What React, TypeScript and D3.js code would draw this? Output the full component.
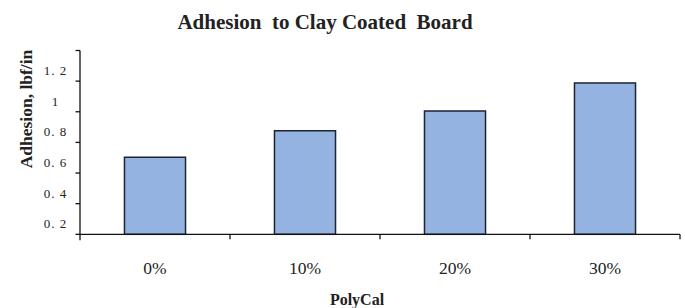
import { useEffect, useRef } from 'react'
import * as d3 from 'd3'

const categories = ['0%', '10%', '20%', '30%']
const adhesion = [0.503, 0.676, 0.805, 0.988]
const yTicks = [0, 0.2, 0.4, 0.6, 0.8, 1.0, 1.2]
const yTickLabels = ['', '0. 2', '0. 4', '0. 6', '0. 8', '1', '1. 2']

const W = 685
const H = 308
const M = { top: 50.5, right: 5, bottom: 73.7, left: 80 }
const FONT = '"Liberation Serif", "Times New Roman", serif'

export default function App() {
  const svgRef = useRef<SVGSVGElement>(null)

  useEffect(() => {
    document.body.style.margin = '0'
    if (!svgRef.current) return
    const svg = d3.select(svgRef.current)
    svg.selectAll('*').remove()

    const innerBottom = H - M.bottom
    const x = d3
      .scaleBand<string>()
      .domain(categories)
      .range([M.left, 680])
      .paddingInner(0.593)
      .paddingOuter(0.2965)
    const y = d3.scaleLinear().domain([0, 1.2]).range([innerBottom, M.top])

    // bars
    svg
      .append('g')
      .selectAll('rect')
      .data(adhesion)
      .join('rect')
      .attr('x', (_, i) => x(categories[i])!)
      .attr('y', (d) => y(d))
      .attr('width', x.bandwidth())
      .attr('height', (d) => innerBottom - y(d))
      .attr('fill', '#95b3e0')
      .attr('stroke', '#1c2333')
      .attr('stroke-width', 1.5)

    // y axis line + ticks
    svg
      .append('line')
      .attr('x1', M.left)
      .attr('x2', M.left)
      .attr('y1', y(1.2))
      .attr('y2', innerBottom + 6)
      .attr('stroke', '#111')
      .attr('stroke-width', 1.3)
    svg
      .append('g')
      .selectAll('line')
      .data(yTicks)
      .join('line')
      .attr('x1', M.left - 4.5)
      .attr('x2', M.left)
      .attr('y1', (d) => y(d))
      .attr('y2', (d) => y(d))
      .attr('stroke', '#111')
      .attr('stroke-width', 1.3)
    // labels sit a bit below their ticks, as in the source
    svg
      .append('g')
      .selectAll('text')
      .data(yTicks)
      .join('text')
      .attr('x', 55.5)
      .attr('y', (d) => y(d) + 20)
      .attr('dy', '0.35em')
      .attr('text-anchor', 'middle')
      .attr('font-family', FONT)
      .attr('font-size', 13)
      .attr('letter-spacing', 1)
      .attr('fill', '#222')
      .style('white-space', 'pre')
      .text((_, i) => yTickLabels[i])

    // x axis line + boundary ticks
    svg
      .append('line')
      .attr('x1', M.left)
      .attr('x2', 680)
      .attr('y1', innerBottom)
      .attr('y2', innerBottom)
      .attr('stroke', '#111')
      .attr('stroke-width', 1.3)
    const bounds = categories.slice(1).map((c) => x(c)! - (x.step() - x.bandwidth()) / 2)
    bounds.push(680)
    svg
      .append('g')
      .selectAll('line')
      .data(bounds)
      .join('line')
      .attr('x1', (d) => d)
      .attr('x2', (d) => d)
      .attr('y1', innerBottom)
      .attr('y2', innerBottom + 5)
      .attr('stroke', '#111')
      .attr('stroke-width', 1.3)

    svg
      .append('g')
      .selectAll('text')
      .data(categories)
      .join('text')
      .attr('x', (d) => x(d)! + x.bandwidth() / 2)
      .attr('y', 274)
      .attr('text-anchor', 'middle')
      .attr('font-family', FONT)
      .attr('font-size', 17.5)
      .attr('fill', '#222')
      .text((d) => d)

    // titles
    svg
      .append('text')
      .attr('x', 325)
      .attr('y', 28.5)
      .attr('text-anchor', 'middle')
      .attr('font-family', FONT)
      .attr('font-weight', 'bold')
      .attr('font-size', 21)
      .attr('fill', '#222')
      .style('white-space', 'pre')
      .text('Adhesion  to Clay Coated  Board')

    svg
      .append('text')
      .attr('x', 357)
      .attr('y', 304.5)
      .attr('text-anchor', 'middle')
      .attr('font-family', FONT)
      .attr('font-weight', 'bold')
      .attr('font-size', 16)
      .attr('fill', '#222')
      .text('PolyCal')

    svg
      .append('text')
      .attr('transform', 'translate(31.5,109) rotate(-90)')
      .attr('text-anchor', 'middle')
      .attr('font-family', FONT)
      .attr('font-weight', 'bold')
      .attr('font-size', 17.5)
      .attr('fill', '#222')
      .text('Adhesion, lbf/in')
  }, [])

  return (
    <svg
      ref={svgRef}
      width={W}
      height={H}
      style={{ position: 'absolute', left: 0, top: 0, background: '#fff' }}
    />
  )
}
